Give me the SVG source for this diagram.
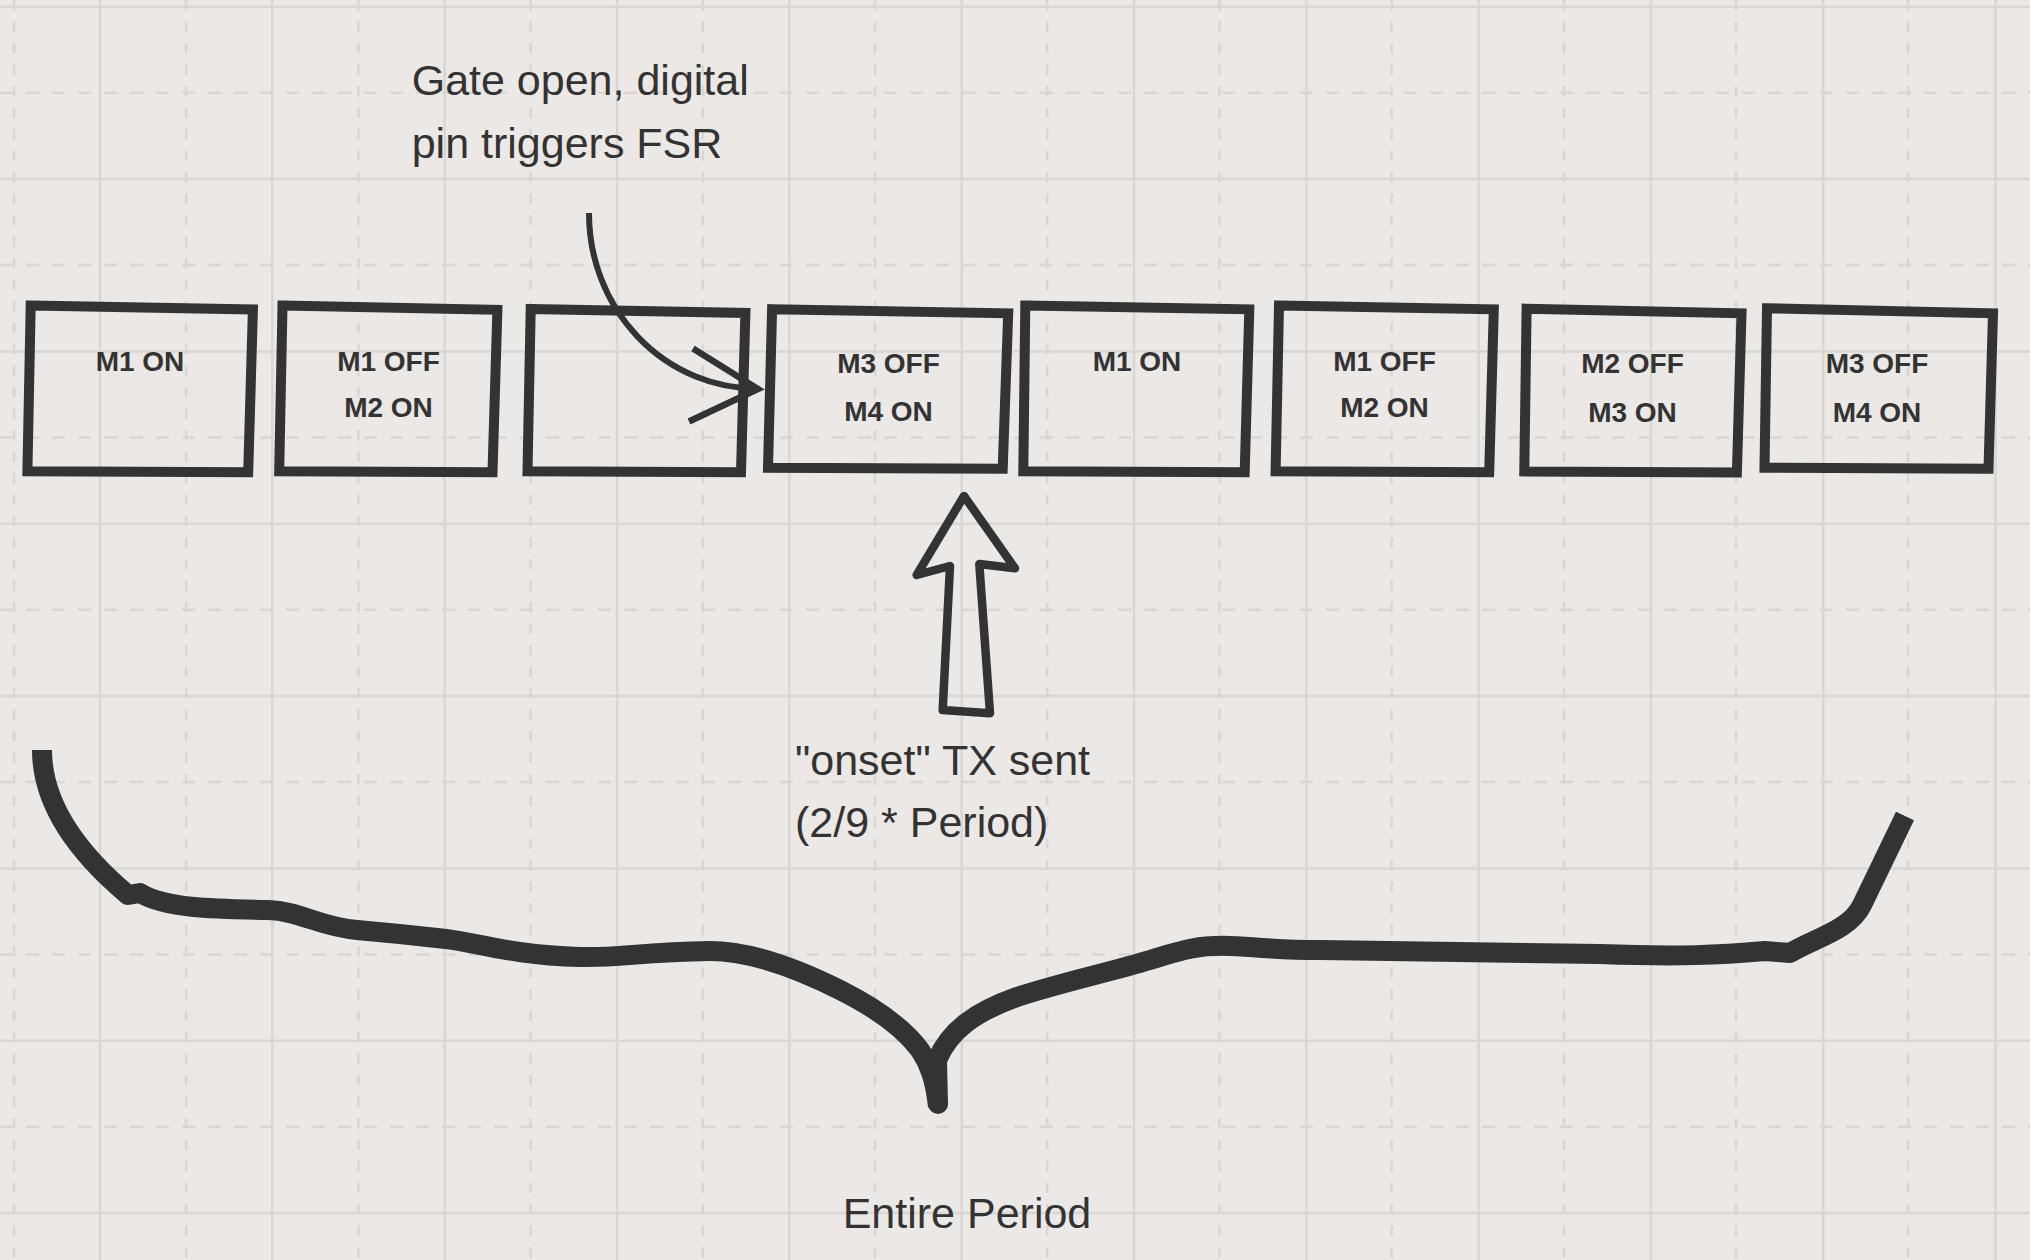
<svg xmlns="http://www.w3.org/2000/svg" width="2030" height="1260" viewBox="0 0 2030 1260">
<style>
.gs{stroke:#d9d6d4;stroke-width:2.5;fill:none}
.gdh{stroke:#d9d6d4;stroke-width:2.5;fill:none;stroke-dasharray:13 13}
.gdv{stroke:#d9d6d4;stroke-width:2.5;fill:none;stroke-dasharray:10.5 11}
.box{fill:none;stroke:#333333;stroke-width:10;stroke-linejoin:miter}
.bt{font-family:"Liberation Sans",Arial,sans-serif;font-weight:bold;font-size:28px;fill:#333333;text-anchor:middle}
.lt{font-family:"Liberation Sans",Arial,sans-serif;font-size:43px;fill:#333333}
.ink{fill:none;stroke:#333333}
</style>
<rect width="2030" height="1260" fill="#ebe8e5"/>
<g id="grid">
<path class="gdv" d="M14,0V1260M186.2,0V1260M358.4,0V1260M530.6,0V1260M702.8,0V1260M875,0V1260M1047.2,0V1260M1219.4,0V1260M1391.6,0V1260M1563.8,0V1260M1736,0V1260M1908.2,0V1260"/>
<path class="gdh" d="M0,92.8H2030M0,265.1H2030M0,437.5H2030M0,609.8H2030M0,782.1H2030M0,954.5H2030M0,1126.8H2030"/>
<path class="gs" d="M100,0V1260M272.3,0V1260M444.7,0V1260M617,0V1260M789.3,0V1260M961.7,0V1260M1134,0V1260M1306.3,0V1260M1478.6,0V1260M1651,0V1260M1823.3,0V1260M1995.6,0V1260"/>
<path class="gs" d="M0,6.7H2030M0,179H2030M0,351.4H2030M0,523.7H2030M0,696H2030M0,868.4H2030M0,1040.7H2030M0,1213H2030"/>
</g>
<g id="box1">
<polygon class="box" points="30.7,305.5 252.9,309.5 248.2,472.3 27.4,471.2"/>
<text class="bt" x="140" y="370.7">M1 ON</text>
</g>
<g id="box2">
<polygon class="box" points="282.5,305.5 497.4,309.8 492.5,472.3 279.2,471.2"/>
<text class="bt" x="388.5" y="370.7">M1 OFF</text>
<text class="bt" x="388.5" y="417.3">M2 ON</text>
</g>
<g id="box3">
<polygon class="box" points="530.7,309 745.4,313 741,472.2 527.5,471.3"/>
</g>
<g id="box4">
<polygon class="box" points="772.1,309.2 1008.2,313.3 1002.7,468.7 768,467.7"/>
<text class="bt" x="888.5" y="373.3">M3 OFF</text>
<text class="bt" x="888.5" y="421">M4 ON</text>
</g>
<g id="box5">
<polygon class="box" points="1025.3,305.5 1249.3,309.3 1244.7,472.3 1023.3,471.2"/>
<text class="bt" x="1137" y="370.7">M1 ON</text>
</g>
<g id="box6">
<polygon class="box" points="1279,305.5 1493.8,309.3 1489.2,472.3 1275.6,471.2"/>
<text class="bt" x="1384.5" y="370.7">M1 OFF</text>
<text class="bt" x="1384.5" y="417.3">M2 ON</text>
</g>
<g id="box7">
<polygon class="box" points="1526.6,308.7 1741.5,313.3 1736.9,472.5 1524.3,471.4"/>
<text class="bt" x="1632.5" y="373.3">M2 OFF</text>
<text class="bt" x="1632.5" y="421.7">M3 ON</text>
</g>
<g id="box8">
<polygon class="box" points="1767,308.3 1993,313.3 1988.5,468.7 1764.5,467.7"/>
<text class="bt" x="1877" y="373.3">M3 OFF</text>
<text class="bt" x="1877" y="421.7">M4 ON</text>
</g>
<g id="label-gate">
<text class="lt" x="411.7" y="95">Gate open, digital</text>
<text class="lt" x="411.7" y="158.3">pin triggers FSR</text>
</g>
<g id="label-onset">
<text class="lt" x="795" y="775">"onset" TX sent</text>
<text class="lt" x="795" y="836.7">(2/9 * Period)</text>
</g>
<g id="label-period">
<text class="lt" x="842.7" y="1228.3">Entire Period</text>
</g>
<g id="connectors">
<path class="ink" stroke-width="6" d="M589,213 A168,175 0 0 0 757,388.5"/>
<path class="ink" stroke-width="6.5" stroke-linecap="butt" d="M693,348.5 L758,389 L689,421.5"/>
<polygon class="ink" stroke-width="8.5" stroke-linejoin="round" points="964,496 1015,568.3 979.3,564 990,713.3 942.7,710 950,566 916.7,575"/>
<path class="ink" stroke-width="20" stroke-linejoin="round" d="M42,750 C42,800 72,848 128,895 L140,893 C165,908 210,909 268,910 C300,911 320,927 357,930 C380,932 420,936 446,939 C480,943 510,955 580,957 C620,958 640,952 710,951 C750,951 800,970 840,990 C880,1010 905,1030 920,1050 C930,1065 935,1080 938,1106"/>
<path class="ink" stroke-width="20" stroke-linejoin="round" d="M938,1106 L937,1060 C950,1030 975,1012 1017,997 C1060,983 1110,972 1150,960 C1185,949 1200,945 1230,946 C1270,948 1280,950 1320,950 L1600,954 C1680,957 1720,955 1765,951 L1790,953 C1815,938 1850,930 1862,905 L1905,816"/>
<circle cx="938" cy="1104" r="10" fill="#333333"/>
</g>
</svg>
